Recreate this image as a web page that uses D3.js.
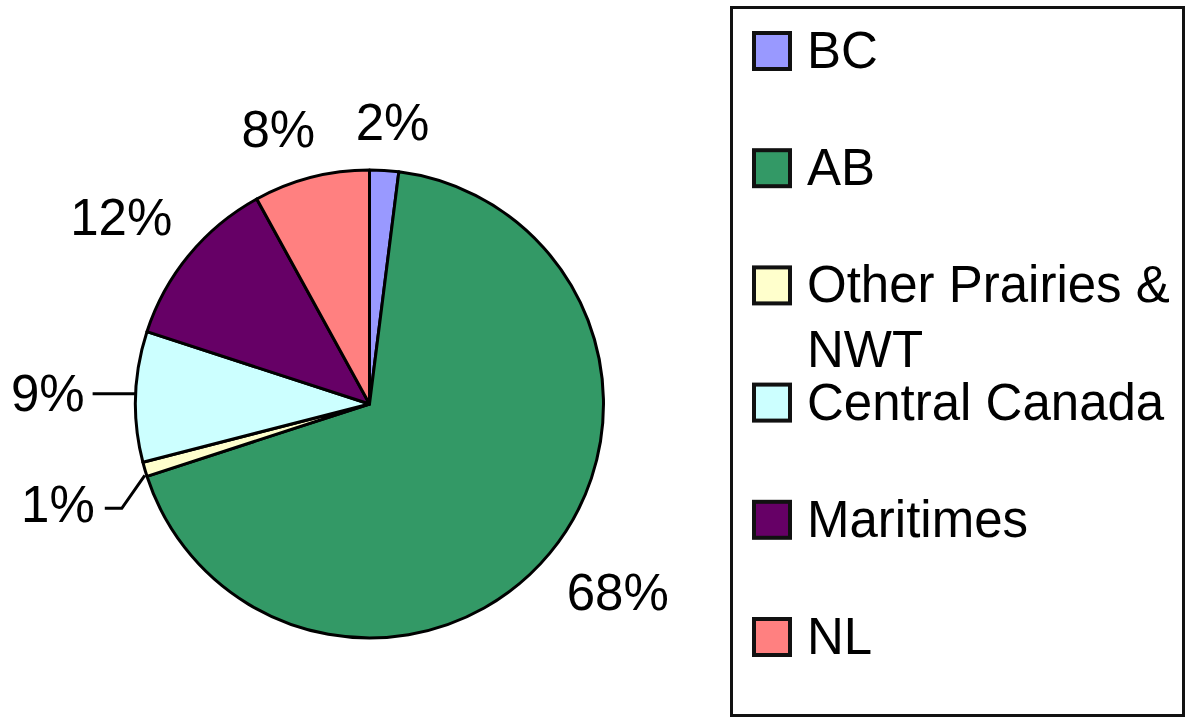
<!DOCTYPE html>
<html><head><meta charset="utf-8">
<script src="https://cdn.jsdelivr.net/npm/d3@7"></script>
<style>html,body{margin:0;padding:0;background:#fff;overflow:hidden}</style>
</head><body>
<svg id="c" width="1187" height="720"></svg>
<script>
const categories = ["BC", "AB", "Other Prairies & NWT", "Central Canada", "Maritimes", "NL"];
const legendLines = [["BC"], ["AB"], ["Other Prairies &", "NWT"], ["Central Canada"], ["Maritimes"], ["NL"]];
const values = [2, 68, 1, 9, 12, 8];
const colors = ["#9999ff", "#339966", "#ffffcc", "#ccffff", "#660066", "#ff8080"];

const svg = d3.select("#c");
const font = "'Liberation Sans', Arial, sans-serif";
const cx = 369.5, cy = 404, R = 234;

const data = categories.map((c, i) => ({cat: c, value: values[i], color: colors[i]}));
const pie = d3.pie().value(d => d.value).sort(null).startAngle(0).endAngle(2 * Math.PI);
const arcs = pie(data);
const arc = d3.arc().innerRadius(0).outerRadius(R);

const g = svg.append("g").attr("transform", `translate(${cx},${cy})`);
g.selectAll("path").data(arcs).enter().append("path")
  .attr("d", arc)
  .attr("fill", d => d.data.color)
  .attr("stroke", "#000")
  .attr("stroke-width", 3)
  .attr("stroke-linejoin", "round");

const fs = 51, capH = 37;
const pct = d => Math.round(d.data.value) + "%";
const clamp = v => Math.max(0, Math.min(1, v));
arcs.forEach((a, i) => {
  const m = (a.startAngle + a.endAngle) / 2;
  const sx = Math.sin(m), sy = -Math.cos(m);
  const ex = R * sx, ey = R * sy;
  const cat = a.data.cat;
  if (cat === "Central Canada") {
    g.append("line").attr("x1", ex).attr("y1", ey - 3).attr("x2", ex - 43).attr("y2", ey - 3)
      .attr("stroke", "#000").attr("stroke-width", 3);
    g.append("text").attr("x", ex - 51).attr("y", ey - 3 + 17).attr("text-anchor", "end")
      .attr("font-family", font).attr("font-size", fs).text(pct(a));
  } else if (cat === "Other Prairies & NWT") {
    g.append("polyline").attr("points", `${ex},${ey + 6} ${ex - 23},${ey + 39} ${ex - 40},${ey + 39}`)
      .attr("fill", "none").attr("stroke", "#000").attr("stroke-width", 3);
    g.append("text").attr("x", ex - 50).attr("y", ey + 39 + 14).attr("text-anchor", "end")
      .attr("font-family", font).attr("font-size", fs).text(pct(a));
  } else {
    const t = g.append("text").attr("font-family", font).attr("font-size", fs).text(pct(a));
    const w = t.node().getComputedTextLength();
    const px = (R + 22) * sx, py = (R + 31) * sy;
    const fx = clamp(0.5 - 1.5 * sx);   // fraction of width left of anchor
    const fy = clamp(0.5 - 1.5 * sy);   // fraction of height above anchor
    t.attr("x", px - fx * w).attr("y", py - fy * capH + capH);
  }
});

// Legend
svg.append("rect").attr("x", 731.5).attr("y", 7.5).attr("width", 452).attr("height", 708)
  .attr("fill", "#fff").attr("stroke", "#111").attr("stroke-width", 3);
const lg = svg.append("g");
legendLines.forEach((lines, i) => {
  const base = 68 + i * 117.2;
  lg.append("rect").attr("x", 754).attr("y", base - 35).attr("width", 36).attr("height", 36)
    .attr("fill", colors[i]).attr("stroke", "#111").attr("stroke-width", 4);
  lines.forEach((t, j) => {
    lg.append("text").attr("x", 807).attr("y", base + j * 65)
      .attr("font-family", font).attr("font-size", fs).attr("fill", "#000").text(t);
  });
});
</script>
</body></html>
